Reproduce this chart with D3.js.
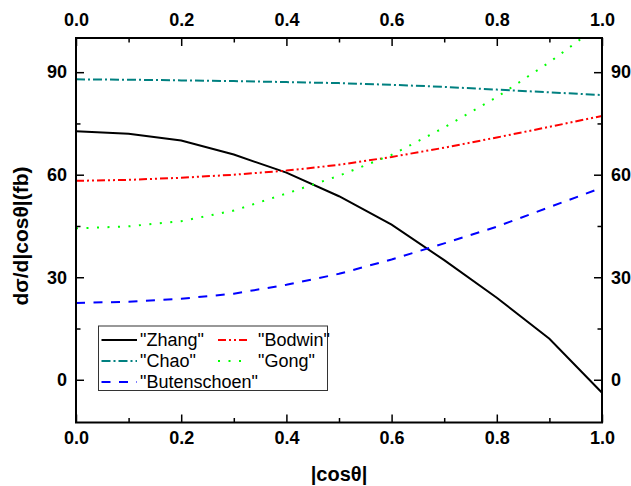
<!DOCTYPE html>
<html lang="en">
<head>
<meta charset="UTF-8">
<title>dσ/d|cosθ|</title>
<script src="https://cdnjs.cloudflare.com/ajax/libs/d3/7.9.0/d3.min.js"></script>
<style>
  body{margin:0;background:#fff;font-family:"Liberation Sans",Arial,sans-serif;}
  svg{display:block}
  .tick text{font-family:"Liberation Sans",Arial,sans-serif;font-size:18px;font-weight:700;fill:#000}
  .tick line{stroke:#000;stroke-width:1.5}
</style>
</head>
<body>
<div id="chart"></div>
<script>
/* ---------- data ---------- */
const cosTheta    = [0, 0.1, 0.2, 0.3, 0.4, 0.5, 0.6, 0.7, 0.8, 0.9, 1.0];
const zhang       = [72.7, 72.0, 70.0, 65.9, 60.6, 53.7, 45.4, 35.0, 24.0, 12.0, -3.8];
const chao        = [87.9, 87.8, 87.6, 87.4, 87.1, 86.8, 86.3, 85.7, 84.9, 84.1, 83.3];
const bodwin      = [58.2, 58.5, 59.1, 60.0, 61.2, 62.9, 65.2, 67.9, 70.9, 74.0, 77.2];
const gong        = [44.3, 44.9, 46.4, 49.5, 54.5, 59.7, 65.8, 73.8, 82.7, 92.9, 104.3];
const butenschoen = [22.5, 22.8, 23.7, 25.2, 27.8, 31.0, 35.2, 39.9, 44.8, 50.5, 56.2];

const seriesNames = ['"Zhang"', '"Bodwin"', '"Chao"', '"Gong"', '"Butenschoen"'];
const xMajor = [0, 0.2, 0.4, 0.6, 0.8, 1.0];
const xMinor = [0.1, 0.3, 0.5, 0.7, 0.9];
const yMajor = [0, 30, 60, 90];
const yMinor = [15, 45, 75];

/* ---------- styles per series ---------- */
const styles = {
  '"Zhang"':       {values: zhang,       color:"#000000", dash:null,          width:2},
  '"Bodwin"':      {values: bodwin,      color:"#ff0000", dash:"8,3,2,3,2,3", width:2},
  '"Chao"':        {values: chao,        color:"#008080", dash:"9,3,2,3",     width:2},
  '"Gong"':        {values: gong,        color:"#00ff00", dash:"2,8.5",       width:2},
  '"Butenschoen"': {values: butenschoen, color:"#0000ff", dash:"9,8.5",       width:2}
};

const W = 631, H = 486;
const pLeft = 76, pRight = 602, pTop = 38, pBottom = 422.5;

const svg = d3.select("#chart").append("svg").attr("width", W).attr("height", H);

const x = d3.scaleLinear().domain([0, 1]).range([pLeft, pRight]);
const y = d3.scaleLinear().domain([-12.5, 100]).range([pBottom, pTop]);

svg.append("clipPath").attr("id", "plotClip")
  .append("rect").attr("x", pLeft).attr("y", pTop)
  .attr("width", pRight - pLeft).attr("height", pBottom - pTop);

// curves
const line = d3.line().x((d, i) => x(cosTheta[i])).y(d => y(d));
seriesNames.forEach(name => {
  const s = styles[name];
  svg.append("path")
    .attr("clip-path", "url(#plotClip)")
    .attr("d", line(s.values))
    .attr("fill", "none")
    .attr("stroke", s.color)
    .attr("stroke-width", s.width)
    .attr("stroke-dasharray", s.dash);
});

// axes: ticks point inward
const fmtX = d3.format(".1f");
svg.append("g").attr("transform", `translate(0,${pBottom})`)
  .call(d3.axisBottom(x).tickValues(xMajor).tickFormat(fmtX).tickSize(-8).tickPadding(8.5))
  .call(g => g.select(".domain").remove());
svg.append("g").attr("transform", `translate(0,${pBottom})`)
  .call(d3.axisBottom(x).tickValues(xMinor).tickFormat("").tickSize(-4.5))
  .call(g => g.select(".domain").remove());
svg.append("g").attr("transform", `translate(0,${pTop})`)
  .call(d3.axisTop(x).tickValues(xMajor).tickFormat(fmtX).tickSize(-8).tickPadding(12))
  .call(g => g.select(".domain").remove());
svg.append("g").attr("transform", `translate(0,${pTop})`)
  .call(d3.axisTop(x).tickValues(xMinor).tickFormat("").tickSize(-4.5))
  .call(g => g.select(".domain").remove());
svg.append("g").attr("transform", `translate(${pLeft},0)`)
  .call(d3.axisLeft(y).tickValues(yMajor).tickSize(-8).tickPadding(9))
  .call(g => g.select(".domain").remove());
svg.append("g").attr("transform", `translate(${pLeft},0)`)
  .call(d3.axisLeft(y).tickValues(yMinor).tickFormat("").tickSize(-4.5))
  .call(g => g.select(".domain").remove());
svg.append("g").attr("transform", `translate(${pRight},0)`)
  .call(d3.axisRight(y).tickValues(yMajor).tickSize(-8).tickPadding(9))
  .call(g => g.select(".domain").remove());
svg.append("g").attr("transform", `translate(${pRight},0)`)
  .call(d3.axisRight(y).tickValues(yMinor).tickFormat("").tickSize(-4.5))
  .call(g => g.select(".domain").remove());

// frame
svg.append("rect")
  .attr("x", pLeft).attr("y", pTop)
  .attr("width", pRight - pLeft).attr("height", pBottom - pTop)
  .attr("fill", "none").attr("stroke", "#000").attr("stroke-width", 2);

// axis titles
svg.append("text")
  .attr("x", (pLeft + pRight) / 2).attr("y", 481)
  .attr("text-anchor", "middle")
  .attr("font-size", 20).attr("font-weight", 700)
  .text("|cosθ|");
svg.append("text")
  .attr("transform", `translate(28,236) rotate(-90)`)
  .attr("text-anchor", "middle")
  .attr("font-size", 21).attr("font-weight", 700)
  .text("dσ/d|cosθ|(fb)");

/* ---------- legend ---------- */
const legend = svg.append("g");
legend.append("rect")
  .attr("x", 98.5).attr("y", 326).attr("width", 229).attr("height", 64.5)
  .attr("fill", "#fff").attr("stroke", "#333").attr("stroke-width", 1);

const legendPos = [
  {lx1:101.5, lx2:137, tx:140, cy:340},
  {lx1:218,   lx2:247, tx:258, cy:340},
  {lx1:101.5, lx2:137, tx:140, cy:361},
  {lx1:218,   lx2:247, tx:258, cy:361},
  {lx1:101.5, lx2:137, tx:140, cy:382}
];
seriesNames.forEach((name, i) => {
  const s = styles[name], p = legendPos[i];
  legend.append("line")
    .attr("x1", p.lx1).attr("x2", p.lx2).attr("y1", p.cy).attr("y2", p.cy)
    .attr("stroke", s.color).attr("stroke-width", s.width)
    .attr("stroke-dasharray", s.dash);
  legend.append("text")
    .attr("x", p.tx).attr("y", p.cy).attr("dy", "0.35em")
    .attr("font-size", 18)
    .text(name);
});
</script>
</body>
</html>
